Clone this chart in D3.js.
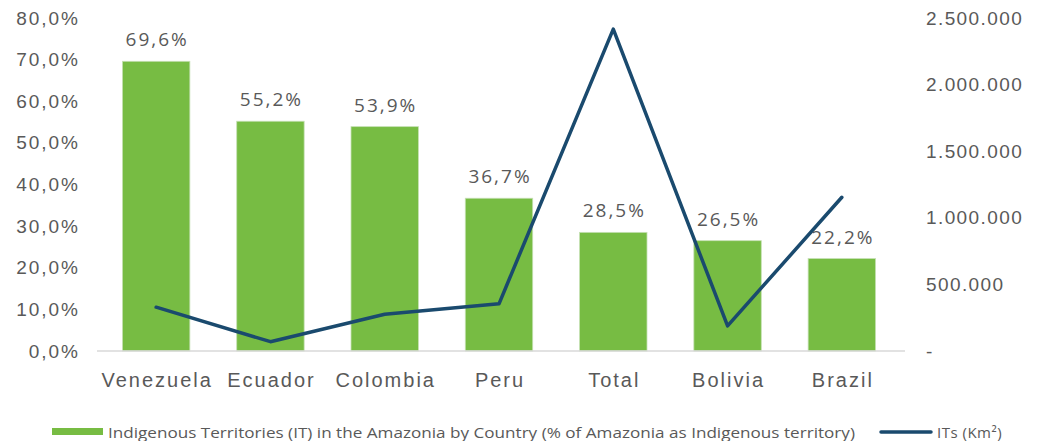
<!DOCTYPE html>
<html>
<head>
<meta charset="utf-8">
<script src="https://cdn.jsdelivr.net/npm/d3@7"></script>
<style>
  html, body { margin: 0; padding: 0; background: #fff; }
  svg { display: block; font-family: "Open Sans", "Noto Sans", sans-serif; }
</style>
</head>
<body>
<svg id="chart" width="1045" height="441"></svg>
<script>
// Countries of the Amazon basin plus the overall total
const categories = ["Venezuela", "Ecuador", "Colombia", "Peru", "Total", "Bolivia", "Brazil"];
// Share of each country's Amazon area that is indigenous territory (%)
const shareIT = [69.6, 55.2, 53.9, 36.7, 28.5, 26.5, 22.2];
// Area of indigenous territories (km²)
const areaIT = [329000, 70000, 276000, 354000, 2417000, 188000, 1154000];
// Axis ticks
const leftTicks = [0, 10, 20, 30, 40, 50, 60, 70, 80];
const rightTicks = [0, 500000, 1000000, 1500000, 2000000, 2500000];
const legendLabels = [
  "Indigenous Territories (IT) in the Amazonia by Country (% of Amazonia as Indigenous territory)",
  "ITs (Km²)"
];

const svg = d3.select("#chart");
const textColor = "#595959";
const green = "#77bc43";
const blue = "#1a4a6e";

const plot = { left: 99, right: 899, top: 18, bottom: 351 };

const locale = d3.formatLocale({ decimal: ",", thousands: ".", grouping: [3], currency: ["", ""] });
const fmtPct = v => locale.format(".1f")(v) + "%";
const fmtKm = v => v === 0 ? "-" : locale.format(",d")(v);

const x = d3.scaleBand().domain(categories).range([plot.left, plot.right]).paddingInner(0.41).paddingOuter(0.205);
const yL = d3.scaleLinear().domain([0, 80]).range([plot.bottom, plot.top]);
const yR = d3.scaleLinear().domain([0, 2500000]).range([plot.bottom, plot.top]);

// Bars
svg.append("g").selectAll("rect")
  .data(shareIT)
  .join("rect")
  .attr("x", (d, i) => x(categories[i]))
  .attr("y", d => yL(d))
  .attr("width", x.bandwidth())
  .attr("height", d => yL(0) - yL(d))
  .attr("fill", green)
  .attr("stroke", "#c5e0b4")
  .attr("stroke-width", 0.8);

// Baseline
svg.append("line")
  .attr("x1", 97).attr("x2", 905)
  .attr("y1", yL(0)).attr("y2", yL(0))
  .attr("stroke", "#d9d9d9").attr("stroke-width", 1.5);

// Bar value labels
svg.append("g").selectAll("text")
  .data(shareIT)
  .join("text")
  .attr("x", (d, i) => x(categories[i]) + x.bandwidth() / 2 + 1)
  .attr("y", d => yL(d) - 15)
  .attr("text-anchor", "middle")
  .attr("font-size", 19)
  .attr("letter-spacing", 2)
  .attr("fill", textColor)
  .text(d => fmtPct(d));

// Line series on the secondary axis
const line = d3.line()
  .x((d, i) => x(categories[i]) + x.bandwidth() / 2)
  .y(d => yR(d));
svg.append("path")
  .datum(areaIT)
  .attr("d", line)
  .attr("fill", "none")
  .attr("stroke", blue)
  .attr("stroke-width", 3.5)
  .attr("stroke-linejoin", "round")
  .attr("stroke-linecap", "round");

// Left axis
const axisL = d3.axisLeft(yL).tickValues(leftTicks).tickFormat(fmtPct).tickSize(0).tickPadding(0);
const gL = svg.append("g").attr("transform", "translate(80,0)").call(axisL);
gL.select(".domain").remove();
gL.selectAll("text").attr("font-size", 19).attr("letter-spacing", 2).attr("fill", textColor).attr("font-family", null);

// Right axis
const axisR = d3.axisRight(yR).tickValues(rightTicks).tickFormat(fmtKm).tickSize(0).tickPadding(0);
const gR = svg.append("g").attr("transform", "translate(926,0)").call(axisR);
gR.select(".domain").remove();
gR.selectAll("text").attr("font-size", 19).attr("letter-spacing", 1.4).attr("fill", textColor).attr("font-family", null);

// Category axis
const axisX = d3.axisBottom(x).tickSize(0).tickPadding(0);
const gX = svg.append("g").attr("transform", "translate(1,373)").call(axisX);
gX.select(".domain").remove();
gX.selectAll("text").attr("font-size", 20).attr("letter-spacing", 2).attr("fill", textColor).attr("font-family", null);

// Legend
const lg = svg.append("g");
lg.append("rect").attr("x", 52).attr("y", 428).attr("width", 51).attr("height", 7).attr("fill", green);
lg.append("text").attr("x", 108).attr("y", 437.5).attr("font-size", 15).attr("fill", textColor)
  .attr("textLength", 747).attr("lengthAdjust", "spacingAndGlyphs")
  .text(legendLabels[0]);
lg.append("line").attr("x1", 881).attr("x2", 931).attr("y1", 432).attr("y2", 432)
  .attr("stroke", blue).attr("stroke-width", 3.5).attr("stroke-linecap", "round");
lg.append("text").attr("x", 937).attr("y", 437.5).attr("font-size", 15).attr("letter-spacing", 0.5).attr("fill", textColor)
  .text(legendLabels[1]);
</script>
</body>
</html>
